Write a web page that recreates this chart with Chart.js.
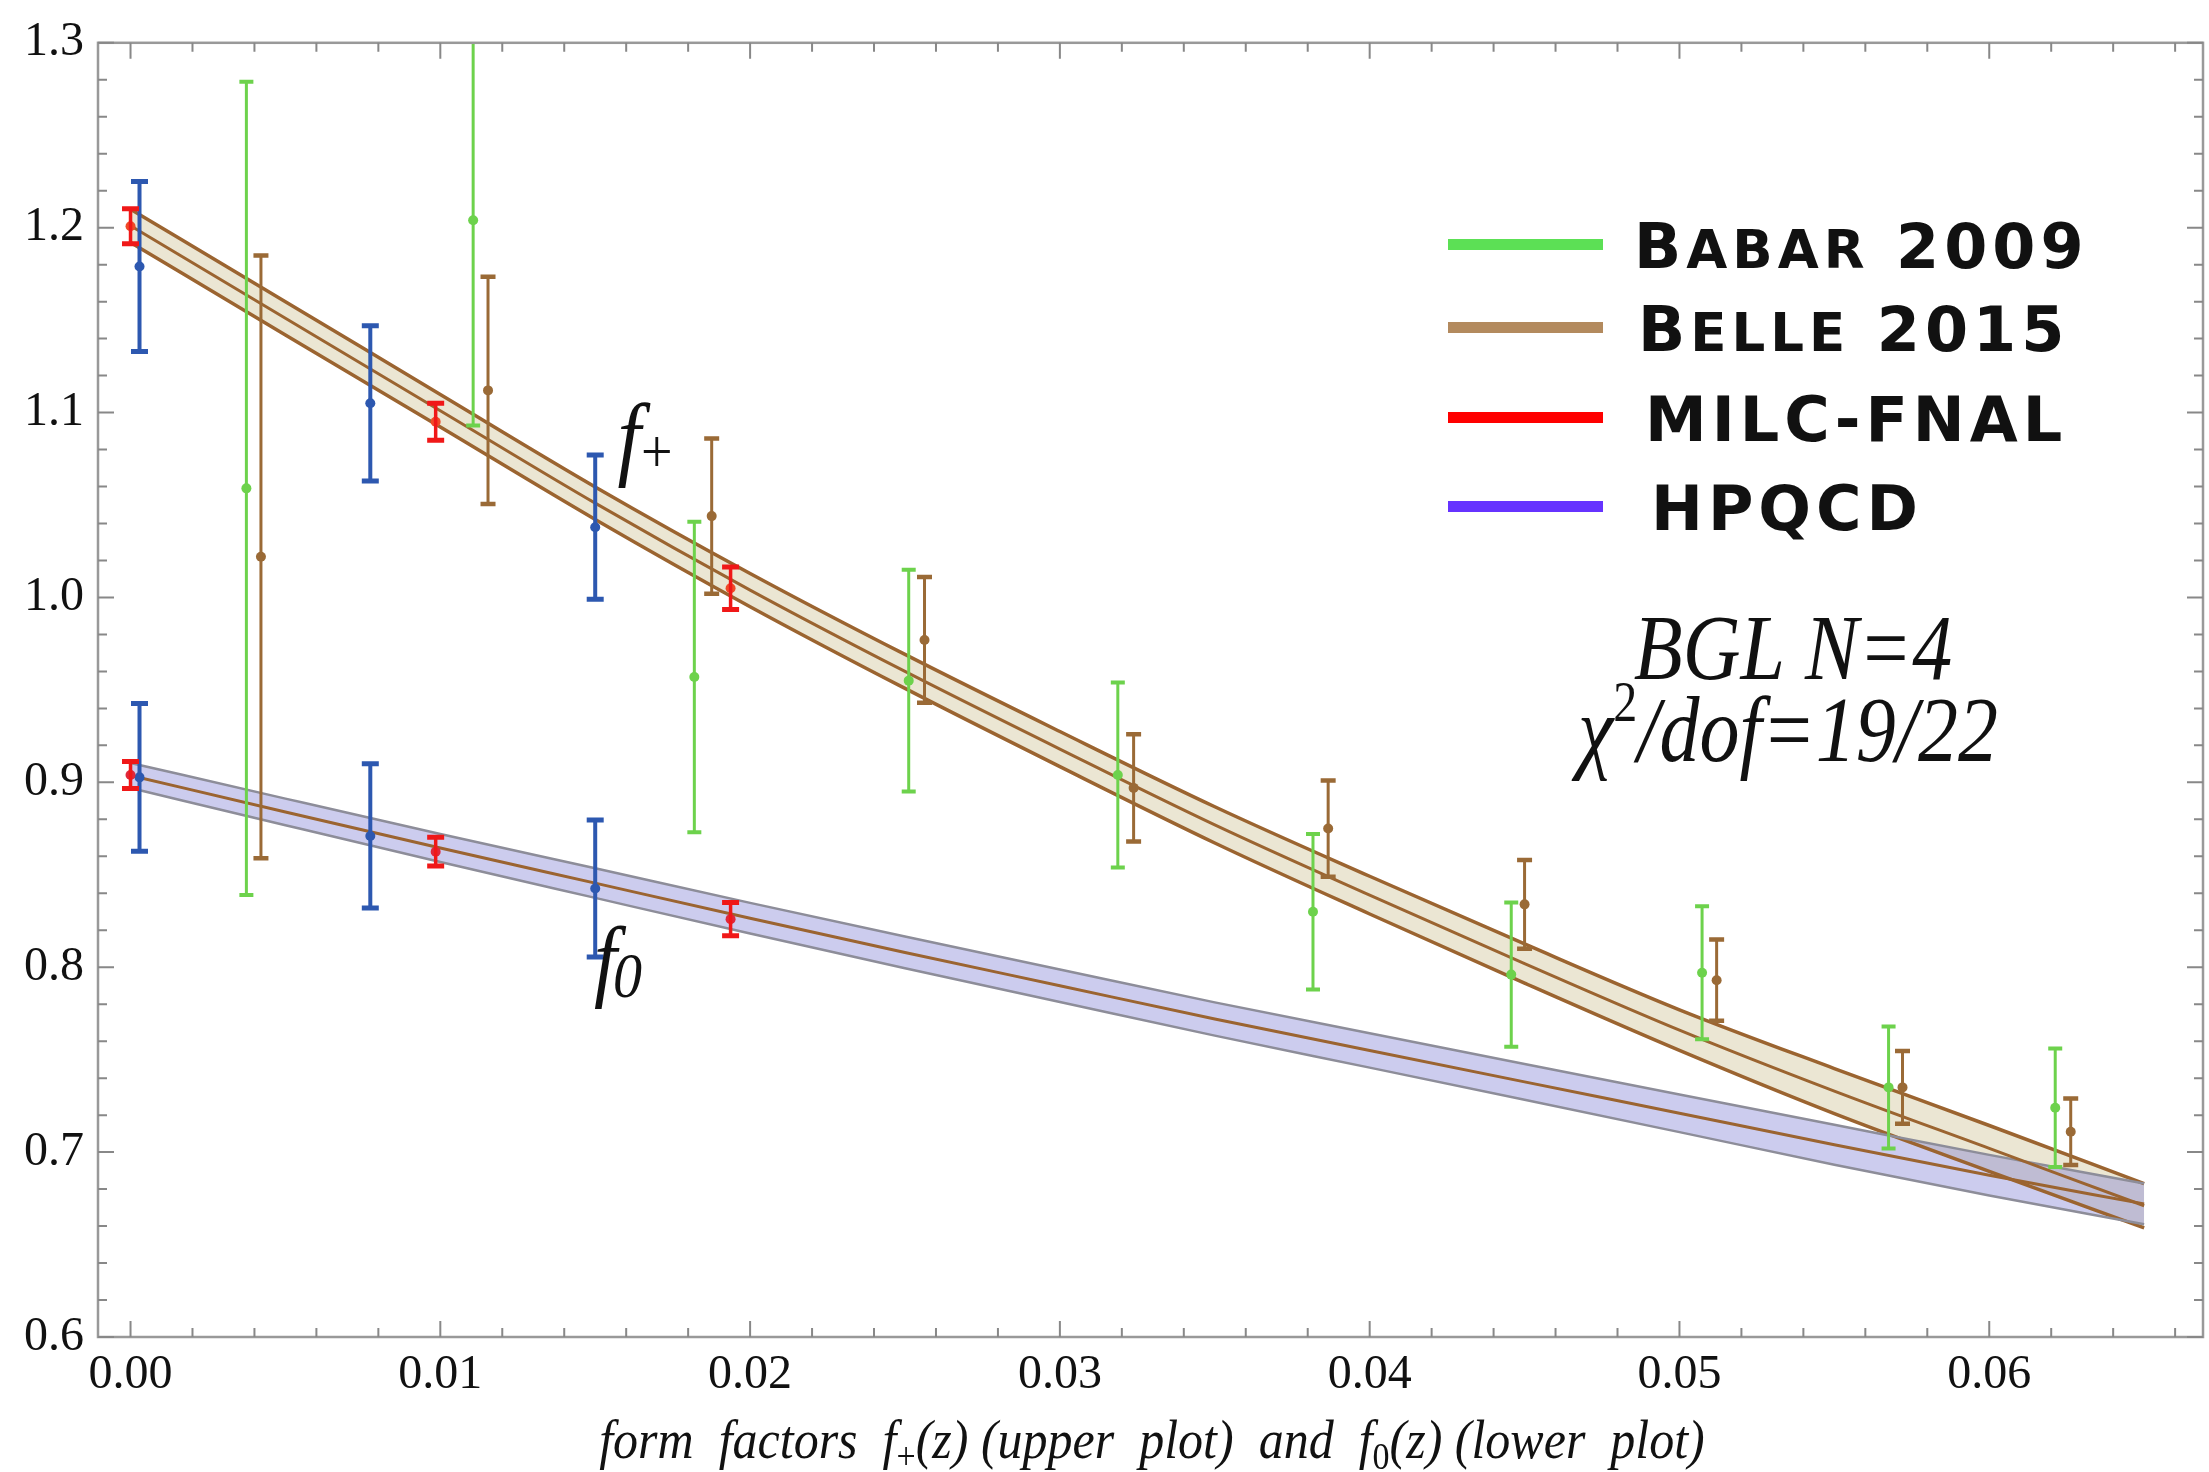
<!DOCTYPE html>
<html>
<head>
<meta charset="utf-8">
<script src="https://cdn.jsdelivr.net/npm/chart.js@4.4.1/dist/chart.umd.min.js"></script>
<style>
  html, body { margin: 0; padding: 0; background: #fff; }
  canvas { display: block; }
</style>
</head>
<body>
<canvas id="ffChart" width="2209" height="1472"></canvas>
<script>
// axis tick labels
const xTicks = [0, 0.01, 0.02, 0.03, 0.04, 0.05, 0.06];
const yTicks = [0.6, 0.7, 0.8, 0.9, 1.0, 1.1, 1.2, 1.3];

// BGL fit bands: centre and half width
const zBand = [0, 0.005, 0.01, 0.015, 0.02, 0.025, 0.03, 0.035, 0.04, 0.045, 0.05, 0.055, 0.06, 0.065];
const fPlusMid = [1.201, 1.151, 1.101, 1.051, 1.004, 0.960, 0.918, 0.877, 0.839, 0.802, 0.766, 0.733, 0.702, 0.671];
const fPlusHalf = [0.009, 0.009, 0.0088, 0.0088, 0.009, 0.0092, 0.0095, 0.0098, 0.0102, 0.0106, 0.011, 0.0122, 0.0124, 0.012];
const fZeroMid = [0.9037, 0.884, 0.8645, 0.8455, 0.8265, 0.808, 0.790, 0.772, 0.755, 0.738, 0.721, 0.704, 0.6875, 0.672];
const fZeroHalf = [0.0068, 0.0072, 0.0076, 0.008, 0.0083, 0.0086, 0.0088, 0.009, 0.0093, 0.0097, 0.0102, 0.0108, 0.011, 0.011];

// Babar 2009 (f+)
const zBabar = [0.00374, 0.01106, 0.01820, 0.02512, 0.03187, 0.03817, 0.04457, 0.05073, 0.05675, 0.06213];
const fBabar = [1.059, 1.204, 0.957, 0.955, 0.904, 0.830, 0.796, 0.797, 0.735, 0.724];
const eBabar = [0.220, 0.111, 0.084, 0.060, 0.050, 0.042, 0.039, 0.036, 0.033, 0.032];

// Belle 2015 (f+)
const zBelle = [0.00421, 0.01154, 0.01876, 0.02563, 0.03238, 0.03866, 0.04500, 0.05120, 0.05720, 0.06263];
const fBelle = [1.022, 1.112, 1.044, 0.977, 0.897, 0.875, 0.834, 0.793, 0.735, 0.711];
const eBelle = [0.163, 0.0615, 0.042, 0.034, 0.029, 0.026, 0.024, 0.022, 0.0197, 0.018];

// MILC-FNAL lattice points
const zMilc = [0.0, 0.00985, 0.01937];
const fpMilc = [1.2008, 1.095, 1.005];
const epMilc = [0.0095, 0.010, 0.0115];
const f0Milc = [0.904, 0.8625, 0.826];
const e0Milc = [0.0073, 0.0078, 0.009];

// HPQCD lattice points
const zHpqcd = [0.00029, 0.00774, 0.01500];
const fpHpqcd = [1.179, 1.105, 1.038];
const epHpqcd = [0.046, 0.042, 0.039];
const f0Hpqcd = [0.9027, 0.871, 0.8426];
const e0Hpqcd = [0.040, 0.039, 0.037];

const legendNames = ['Babar 2009', 'Belle 2015', 'MILC-FNAL', 'HPQCD'];
const legendColors = ['#5ce055', '#b38a5e', '#ff0000', '#6633ff'];

const GREEN = '#6dd24c', BROWN = '#9a6a36', BLUE = '#2d58b0', RED = '#f01818';
const BAND_LINE = '#9b6430';

const pts = (zs, ys) => zs.map((z, i) => ({ x: z, y: ys[i] }));
const shift = (m, h, s) => m.map((v, i) => v + s * h[i]);

const errorSets = [
  { z: zBabar, f: fBabar, e: eBabar, color: GREEN, lw: 3, cap: 14, capLw: 4 },
  { z: zBelle, f: fBelle, e: eBelle, color: BROWN, lw: 3, cap: 15, capLw: 4.5 },
  { z: zHpqcd, f: fpHpqcd, e: epHpqcd, color: BLUE, lw: 4, cap: 17, capLw: 5 },
  { z: zHpqcd, f: f0Hpqcd, e: e0Hpqcd, color: BLUE, lw: 4, cap: 17, capLw: 5 },
  { z: zMilc, f: fpMilc, e: epMilc, color: RED, lw: 3.5, cap: 17, capLw: 5 },
  { z: zMilc, f: f0Milc, e: e0Milc, color: RED, lw: 3.5, cap: 17, capLw: 5 }
];

const bandLine = (data, color, width, fill, bg) => ({
  type: 'line', data, borderColor: color, borderWidth: width, pointRadius: 0,
  fill: fill, backgroundColor: bg, cubicInterpolationMode: 'monotone'
});
const dots = (data, color) => ({
  type: 'scatter', data, pointRadius: 5, pointBorderWidth: 0,
  pointBackgroundColor: color, borderColor: color, showLine: false
});

// error bars, frame ticks, labels and legend
const decorPlugin = {
  id: 'decor',
  afterDatasetsDraw(chart) {
    const { ctx, chartArea: a, scales: { x, y } } = chart;
    ctx.save();
    ctx.beginPath();
    ctx.rect(a.left, a.top, a.right - a.left, a.bottom - a.top);
    ctx.clip();
    errorSets.forEach(s => {
      ctx.strokeStyle = s.color;
      s.z.forEach((z, i) => {
        const px = x.getPixelForValue(z);
        const top = y.getPixelForValue(s.f[i] + s.e[i]);
        const bot = y.getPixelForValue(s.f[i] - s.e[i]);
        ctx.lineWidth = s.lw;
        ctx.beginPath(); ctx.moveTo(px, top); ctx.lineTo(px, bot); ctx.stroke();
        ctx.lineWidth = s.capLw;
        ctx.beginPath();
        ctx.moveTo(px - s.cap / 2, top); ctx.lineTo(px + s.cap / 2, top);
        ctx.moveTo(px - s.cap / 2, bot); ctx.lineTo(px + s.cap / 2, bot);
        ctx.stroke();
      });
    });
    ctx.restore();
  },
  afterDraw(chart) {
    const { ctx, chartArea: a, scales: { x, y } } = chart;
    ctx.save();
    // frame
    ctx.strokeStyle = '#999';
    ctx.lineWidth = 2.5;
    ctx.strokeRect(a.left, a.top, a.right - a.left, a.bottom - a.top);
    // inward ticks on all four sides
    ctx.strokeStyle = '#888';
    ctx.lineWidth = 2;
    ctx.beginPath();
    for (let k = 0; k <= 33; k++) {
      const v = k * 0.002;
      const px = x.getPixelForValue(v);
      const len = k % 5 === 0 ? 16 : 9;
      ctx.moveTo(px, a.bottom); ctx.lineTo(px, a.bottom - len);
      ctx.moveTo(px, a.top); ctx.lineTo(px, a.top + len);
    }
    for (let k = 0; k <= 35; k++) {
      const v = 0.6 + k * 0.02;
      const py = y.getPixelForValue(v);
      const len = k % 5 === 0 ? 16 : 9;
      ctx.moveTo(a.left, py); ctx.lineTo(a.left + len, py);
      ctx.moveTo(a.right, py); ctx.lineTo(a.right - len, py);
    }
    ctx.stroke();

    ctx.fillStyle = '#111';
    ctx.textBaseline = 'alphabetic';
    const runs = (list, cx, base, sy) => {
      ctx.save();
      ctx.translate(cx, base);
      ctx.scale(1, sy);
      let w = 0;
      list.forEach(r => { ctx.font = r.font; w += ctx.measureText(r.t).width + (r.dx || 0); });
      let px = -w / 2;
      list.forEach(r => {
        ctx.font = r.font;
        px += r.dx || 0;
        ctx.fillText(r.t, px, r.dy || 0);
        px += ctx.measureText(r.t).width;
      });
      ctx.restore();
    };
    const it = s => 'italic ' + s + 'px "Liberation Serif"';
    const up = s => s + 'px "Liberation Serif"';

    // x axis title
    runs([
      { t: 'form  factors  f', font: it(50) },
      { t: '+', font: up(34), dy: 10 },
      { t: '(z) (upper  plot)  and  f', font: it(50) },
      { t: '0', font: up(34), dy: 10 },
      { t: '(z) (lower  plot)', font: it(50) }
    ], 1152, 1458, 1.1);

    // curve labels
    runs([{ t: 'f', font: it(84) }, { t: '+', font: up(56), dy: 4, dx: 0 }], 645, 468, 1.1);
    runs([{ t: 'f', font: it(82) }, { t: '0', font: it(58), dy: 6, dx: -4 }], 618, 990, 1.1);

    // fit info
    runs([{ t: 'BGL N=4', font: it(80) }], 1793, 679, 1.17);
    runs([
      { t: 'χ', font: it(80) },
      { t: '2', font: up(48), dy: -34 },
      { t: '/dof=19/22', font: it(80) }
    ], 1788, 761, 1.17);

    // legend, drawn as small caps by hand
    const rows = [245, 328, 418, 507];
    const textX = [1634, 1638, 1645, 1651];
    const big = 62, small = 53;
    ctx.textBaseline = 'alphabetic';
    ctx.letterSpacing = '5px';
    legendNames.forEach((name, i) => {
      ctx.fillStyle = legendColors[i];
      ctx.fillRect(1448, rows[i] - 6, 155, 11);
      ctx.fillStyle = '#111';
      let px = textX[i];
      for (const ch of name) {
        const lower = ch !== ch.toUpperCase();
        ctx.font = 'bold ' + (lower ? small : big) + 'px "DejaVu Sans"';
        const t = ch.toUpperCase();
        ctx.fillText(t, px, rows[i] + 23);
        px += ctx.measureText(t).width;
      }
    });
    ctx.restore();
  }
};

new Chart(document.getElementById('ffChart'), {
  data: {
    datasets: [
      dots(pts(zMilc, fpMilc), '#f04a28'),
      dots(pts(zMilc, f0Milc), '#e0283a'),
      dots(pts(zHpqcd, fpHpqcd), BLUE),
      dots(pts(zHpqcd, f0Hpqcd), BLUE),
      dots(pts(zBelle, fBelle), BROWN),
      dots(pts(zBabar, fBabar), GREEN),
      bandLine(pts(zBand, fPlusMid), BAND_LINE, 3, false),
      bandLine(pts(zBand, fZeroMid), BAND_LINE, 3, false),
      bandLine(pts(zBand, shift(fZeroMid, fZeroHalf, 1)), '#8d8d99', 2.5, '+1', 'rgba(120,120,210,0.38)'),
      bandLine(pts(zBand, shift(fZeroMid, fZeroHalf, -1)), '#8d8d99', 2.5, false),
      bandLine(pts(zBand, shift(fPlusMid, fPlusHalf, 1)), BAND_LINE, 3.5, '+1', '#ebe6d3'),
      bandLine(pts(zBand, shift(fPlusMid, fPlusHalf, -1)), BAND_LINE, 3.5, false)
    ]
  },
  options: {
    responsive: false,
    animation: false,
    devicePixelRatio: 1,
    layout: { padding: { top: 37, right: 6, left: 0, bottom: 0 } },
    plugins: {
      legend: { display: false },
      tooltip: { enabled: false },
      filler: { drawTime: 'beforeDatasetsDraw' }
    },
    scales: {
      x: {
        type: 'linear', min: -0.00105, max: 0.0669,
        grid: { display: false, drawTicks: false },
        border: { display: false },
        afterBuildTicks: s => { s.ticks = xTicks.map(v => ({ value: v })); },
        afterFit: s => { s.height = 135; },
        ticks: {
          padding: 10, color: '#111', maxRotation: 0, autoSkip: false,
          font: { family: 'Liberation Serif', size: 48 },
          callback: v => v.toFixed(2)
        }
      },
      y: {
        type: 'linear', min: 0.6, max: 1.3,
        grid: { display: false, drawTicks: false },
        border: { display: false },
        afterBuildTicks: s => { s.ticks = yTicks.map(v => ({ value: v })); },
        afterFit: s => { s.width = 98; },
        ticks: {
          padding: 14, color: '#111', autoSkip: false,
          font: { family: 'Liberation Serif', size: 48 },
          callback: v => v.toFixed(1)
        }
      }
    }
  },
  plugins: [decorPlugin]
});
</script>
</body>
</html>
